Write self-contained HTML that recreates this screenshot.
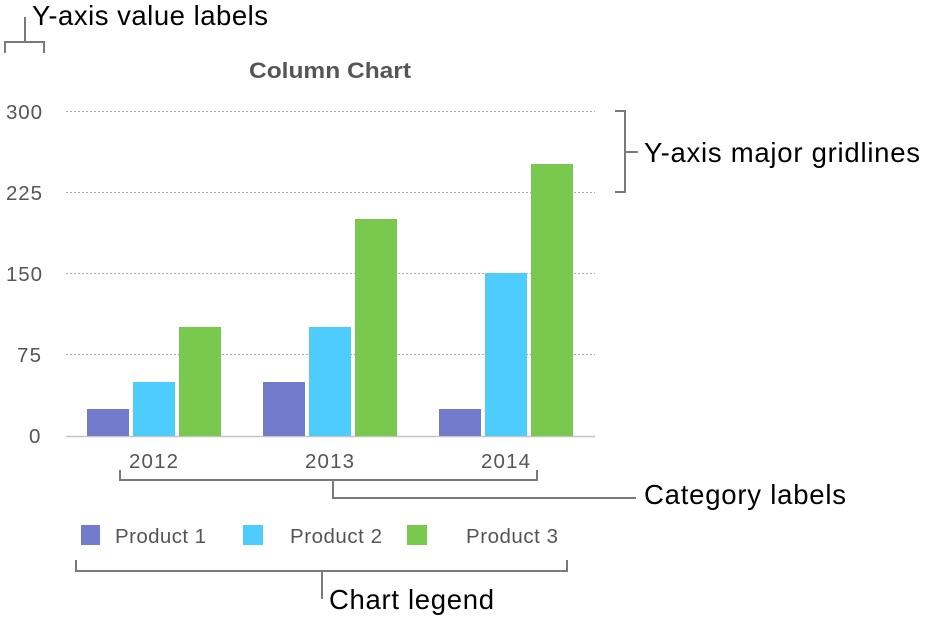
<!DOCTYPE html>
<html><head><meta charset="utf-8"><style>
html,body{margin:0;padding:0;background:#fff;width:936px;height:628px;overflow:hidden}
</style></head><body>
<svg width="936" height="628" viewBox="0 0 936 628" xmlns="http://www.w3.org/2000/svg" font-family="Liberation Sans, sans-serif">
<g stroke="#ababab" stroke-width="1" stroke-dasharray="2,2">
<line x1="66" y1="111.5" x2="595" y2="111.5"/>
<line x1="66" y1="192.5" x2="595" y2="192.5"/>
<line x1="66" y1="273.5" x2="595" y2="273.5"/>
<line x1="66" y1="354.5" x2="595" y2="354.5"/>
</g>
<line x1="66" y1="436.5" x2="595" y2="436.5" stroke="#c4c4c4" stroke-width="1.5"/>
<g fill="#555" font-size="20.5" lengthAdjust="spacingAndGlyphs">
<text x="6" y="119" textLength="36">300</text><text x="6" y="200" textLength="36">225</text><text x="6" y="281" textLength="36">150</text><text x="17" y="362" textLength="24">75</text><text x="29" y="443" textLength="12">0</text>
<text x="129" y="468" textLength="49">2012</text><text x="305" y="468" textLength="49">2013</text><text x="481" y="468" textLength="49">2014</text>
<text x="115" y="543" textLength="91">Product 1</text><text x="290" y="543" textLength="92">Product 2</text><text x="466" y="543" textLength="92">Product 3</text>
</g>
<text x="249" y="78" textLength="162" lengthAdjust="spacingAndGlyphs" font-size="22" font-weight="bold" fill="#555">Column Chart</text>
<g fill="#737bcc">
<rect x="87" y="409" width="42" height="27"/><rect x="263" y="382" width="42" height="54"/><rect x="439" y="409" width="42" height="27"/>
<rect x="81" y="525" width="19" height="20"/></g>
<g fill="#4ecdfd">
<rect x="133" y="382" width="42" height="54"/><rect x="309" y="327" width="42" height="109"/><rect x="485" y="273" width="42" height="163"/>
<rect x="243" y="525" width="20" height="20"/></g>
<g fill="#7ac94f">
<rect x="179" y="327" width="42" height="109"/><rect x="355" y="219" width="42" height="217"/><rect x="531" y="164" width="42" height="272"/>
<rect x="407" y="525" width="20" height="20"/></g>
<g stroke="#7a7a7a" stroke-width="2" fill="none">
<path d="M5 53V42H44V53M25 42V17"/>
<path d="M615 111H625V192H615M625 152H638"/>
<path d="M120 470V480H537V470M333 480V498H636"/>
<path d="M76 560V571H567V560M322 571V599"/>
</g>
<g fill="#000" font-size="27.5" lengthAdjust="spacingAndGlyphs">
<text x="32" y="25" textLength="236">Y-axis value labels</text>
<text x="644" y="162" textLength="276">Y-axis major gridlines</text>
<text x="644" y="504" textLength="202">Category labels</text>
<text x="329" y="609" textLength="165">Chart legend</text>
</g>
</svg>
</body></html>
